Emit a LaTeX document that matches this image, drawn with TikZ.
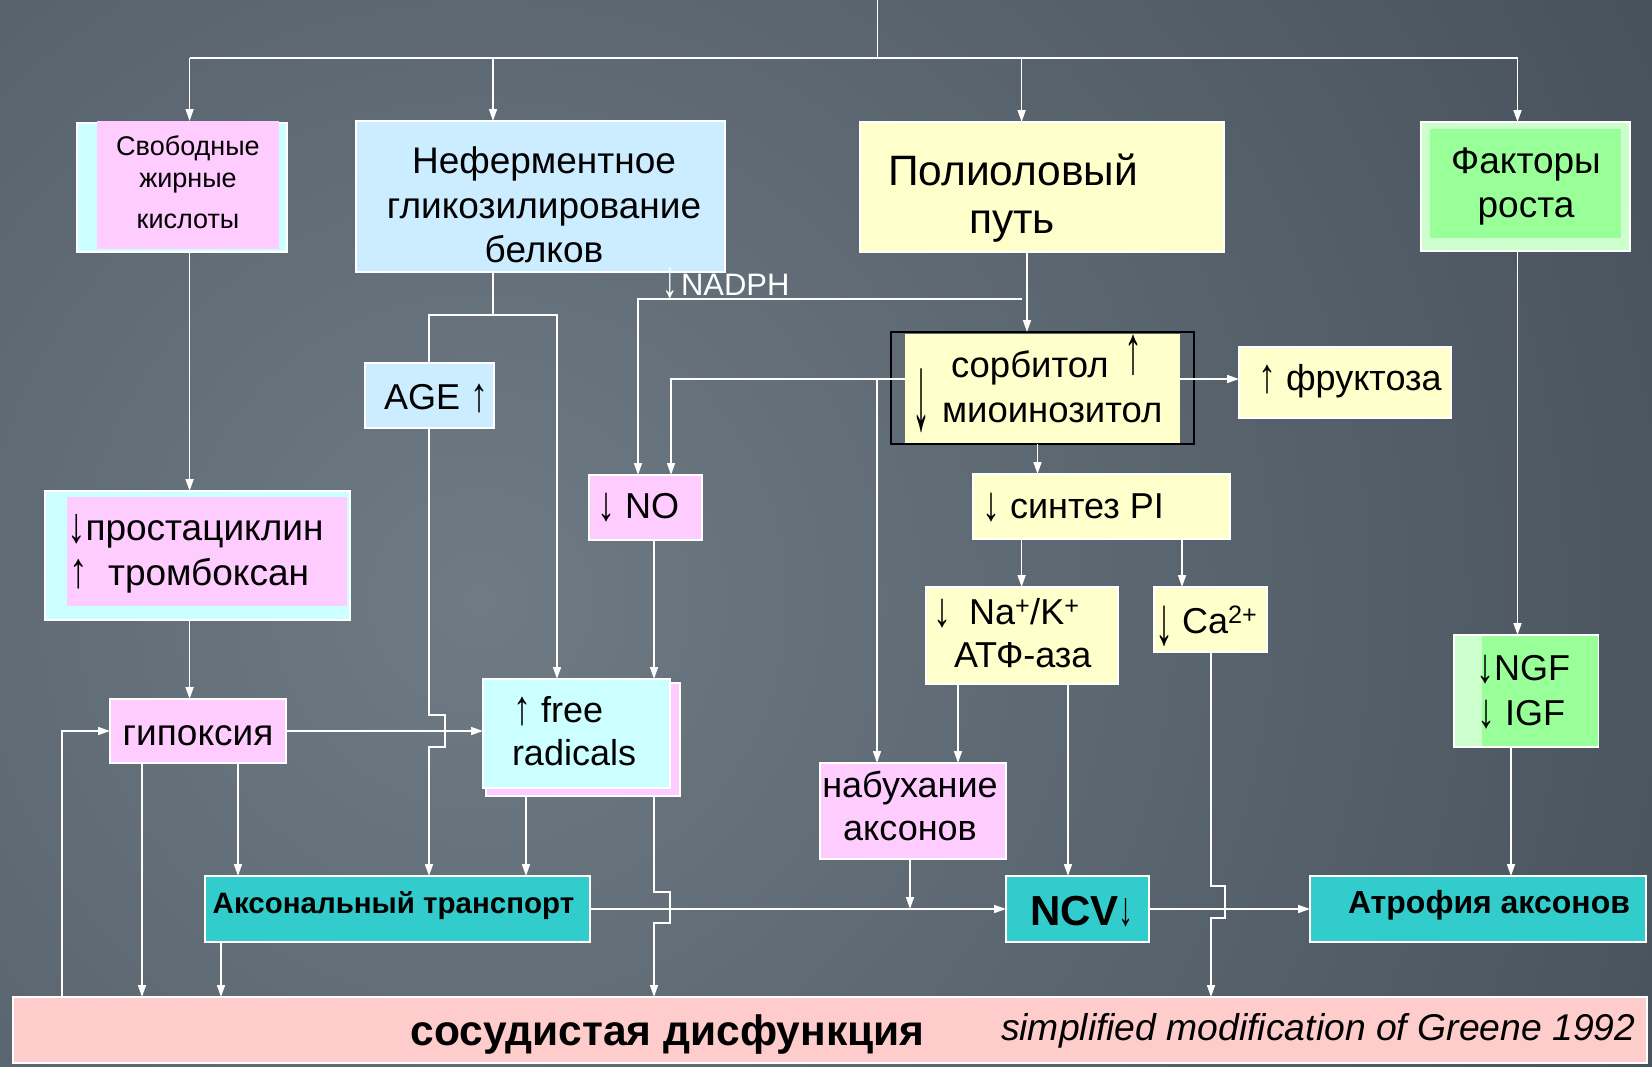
\documentclass[tikz,border=0pt]{standalone}
\usepackage{fontspec}
\setmainfont{Liberation Sans}
\usepackage{graphicx}
\usetikzlibrary{arrows.meta}
\definecolor{pinkbox}{HTML}{FFCCFF}
\definecolor{cyanbox}{HTML}{CCFFFF}
\definecolor{bluebox}{HTML}{CCECFF}
\definecolor{yelbox}{HTML}{FFFFCC}
\definecolor{grnin}{HTML}{99FF99}
\definecolor{grnout}{HTML}{CCFFCC}
\definecolor{tealbox}{HTML}{33CCCC}
\definecolor{salmonbox}{HTML}{FFCCCC}
\definecolor{bgA}{HTML}{6E7A84}
\definecolor{bgB}{HTML}{26303B}
\newcommand\myfs[1]{\fontsize{#1}{#1}\selectfont}
\newcommand\dnar{\raisebox{-0.08em}{\scalebox{1}[1.35]{↓}}}
\newcommand\upar{\raisebox{-0.08em}{\scalebox{1}[1.35]{↑}}}
\begin{document}
\begin{tikzpicture}[x=1pt,y=-1pt,
  box/.style={draw=white, line width=1.4pt, inner sep=0pt, outer sep=0pt},
  plain/.style={inner sep=0pt, outer sep=0pt},
  conn/.style={draw=white, line width=1.6pt},
  arr/.style={conn, -{Triangle[width=8pt,length=12pt]}},
  txt/.style={text=black, inner sep=0pt, outer sep=0pt, font=\myfs{36}},
]
\useasboundingbox (0,0) rectangle (1652,1066);
\begin{scope}
\clip (0,0) rectangle (1652,1066);
\fill[bgB] (0,0) rectangle (1652,1066);
\shade[inner color=bgA, outer color=bgB] (480,600) circle[radius=2400];
\end{scope}

% ---------- boxes ----------
\node[box, fill=cyanbox, minimum width=210, minimum height=129] (ffab) at (182,187.5) {};
\node[plain, fill=pinkbox, minimum width=182, minimum height=128] (ffa) at (188,185) {};
\node[box, fill=bluebox, minimum width=369, minimum height=151] (glyc) at (540.5,196.5) {};
\node[box, fill=yelbox, minimum width=364, minimum height=130] (polyol) at (1042,187) {};
\node[box, fill=grnout, minimum width=209, minimum height=129] (growth) at (1525.5,186.5) {};
\node[plain, fill=grnin, minimum width=191, minimum height=109] (growthi) at (1525.5,183.5) {};
\node[box, fill=bluebox, minimum width=129, minimum height=65] (age) at (429.5,395.5) {};
\node[plain, draw=black, line width=2.2pt, minimum width=303, minimum height=112] (sorbo) at (1042.5,388) {};
\node[plain, fill=yelbox, minimum width=275, minimum height=109] (sorbin) at (1042.5,388) {};
\node[box, fill=yelbox, minimum width=212, minimum height=71] (fruct) at (1345,382.5) {};
\node[box, fill=yelbox, minimum width=257, minimum height=65] (pi) at (1101.5,506.5) {};
\node[box, fill=pinkbox, minimum width=113, minimum height=65] (no) at (645.5,507.5) {};
\node[box, fill=cyanbox, minimum width=305, minimum height=129] (prostb) at (197.5,555.5) {};
\node[plain, fill=pinkbox, minimum width=280, minimum height=109] (prost) at (207,551.5) {};
\node[box, fill=pinkbox, minimum width=176, minimum height=64] (hyp) at (198,731) {};
\node[box, fill=pinkbox, minimum width=194, minimum height=113] (frb) at (583,739.5) {};
\node[box, fill=cyanbox, minimum width=187, minimum height=109] (fr) at (576.5,733.5) {};
\node[box, fill=yelbox, minimum width=192, minimum height=97] (nak) at (1022,635.5) {};
\node[box, fill=yelbox, minimum width=113, minimum height=65] (ca) at (1210.5,619.5) {};
\node[box, fill=grnout, minimum width=144, minimum height=112] (ngfo) at (1526,691) {};
\node[plain, fill=grnin, minimum width=116, minimum height=110] (ngf) at (1539.5,691) {};
\node[box, fill=pinkbox, minimum width=186, minimum height=96] (swell) at (913,811) {};
\node[box, fill=tealbox, minimum width=385, minimum height=66] (axt) at (397.5,909) {};
\node[box, fill=tealbox, minimum width=143, minimum height=66] (ncv) at (1077.5,909) {};
\node[box, fill=tealbox, minimum width=336, minimum height=66] (atr) at (1478,909) {};
\node[box, fill=salmonbox, minimum width=1634, minimum height=66] (vasc) at (830,1030) {};

% ---------- texts ----------
\node[txt, font=\myfs{27}, anchor=base] (t-ffa1) at (188,155) {Свободные};
\node[txt, font=\myfs{27}, anchor=base] (t-ffa2) at (188,187) {жирные};
\node[txt, font=\myfs{27}, anchor=base] (t-ffa3) at (188,228) {кислоты};
\node[txt, font=\myfs{37}, anchor=base] (t-gl1) at (544,173) {Неферментное};
\node[txt, font=\myfs{37}, anchor=base] (t-gl2) at (544,218) {гликозилирование};
\node[txt, font=\myfs{37}, anchor=base] (t-gl3) at (544,262) {белков};
\node[txt, font=\myfs{42.5}, anchor=base west] (t-po1) at (888,185) {Полиоловый};
\node[txt, font=\myfs{42.5}, anchor=base] (t-po2) at (1012,233) {путь};
\node[txt, font=\myfs{37}, anchor=base] (t-gr1) at (1526,173) {Факторы};
\node[txt, font=\myfs{37}, anchor=base] (t-gr2) at (1526,217) {роста};
\node[txt, anchor=base west] (t-age) at (384,409) {AGE \upar};
\node[txt, text=white, font=\myfs{31}, anchor=center] (t-nadpha) at (670,283) {\scalebox{1}[1.7]{↓}};
\node[txt, text=white, font=\myfs{31}, anchor=base west] (t-nadph) at (681,295) {NADPH};
\node[txt, font=\myfs{36.5}, anchor=base west] (t-so1) at (951,377) {сорбитол};
\node[txt, anchor=center] (t-so1a) at (1133,355.5) {\scalebox{1}[1.9]{↑}};
\node[txt, font=\myfs{36.5}, anchor=base west] (t-so2) at (942,422) {миоинозитол};
\node[txt, anchor=center] (t-so2a) at (921,401) {\scalebox{1}[3.0]{↓}};
\node[txt, anchor=base west] (t-fru) at (1258,390) {\upar\ фруктоза};
\node[txt, anchor=base west] (t-pi) at (982,518) {\dnar\ синтез PI};
\node[txt, anchor=base west] (t-no) at (597,518) {\dnar\ NO};
\node[txt, font=\myfs{37}, anchor=base west] (t-pr1) at (67,540) {\dnar простациклин};
\node[txt, font=\myfs{37}, anchor=base west] (t-pr2) at (69,585) {\upar\ \ тромбоксан};
\node[txt, font=\myfs{37}, anchor=base] (t-hyp) at (198,745) {гипоксия};
\node[txt, anchor=base west] (t-fr1) at (513,722) {\upar\ free};
\node[txt, anchor=base west] (t-fr2) at (512,765) {radicals};
\node[txt, anchor=base west] (t-nak1) at (933,624) {\dnar\hspace{18pt}Na\textsuperscript{+}/K\textsuperscript{+}};
\node[txt, anchor=base west] (t-nak2) at (954,667) {АТФ-аза};
\node[txt, anchor=center] (t-caa) at (1164,626.5) {\scalebox{1}[1.9]{↓}};
\node[txt, anchor=base west] (t-ca) at (1182,633) {Ca\textsuperscript{2+}};
\node[txt, anchor=base west] (t-ngf1) at (1476,680) {\dnar NGF};
\node[txt, anchor=base west] (t-ngf2) at (1477,725) {\dnar\ IGF};
\node[txt, anchor=base] (t-sw1) at (910,797) {набухание};
\node[txt, anchor=base] (t-sw2) at (910,840) {аксонов};
\node[txt, font=\myfs{29.5}\bfseries, anchor=base] (t-axt) at (393.5,913) {Аксональный транспорт};
\node[txt, font=\myfs{42}\bfseries, anchor=base west] (t-ncv) at (1030,925) {NCV{\mdseries\myfs{30}\scalebox{1}[1.6]{↓}}};
\node[txt, font=\myfs{32}\bfseries, anchor=base] (t-atr) at (1489,913) {Атрофия аксонов};
\node[txt, font=\myfs{42.5}\bfseries, anchor=base] (t-va1) at (667.5,1045) {сосудистая дисфункция};
\node[txt, font=\myfs{37.3}\itshape, anchor=base west] (t-va2) at (1001,1040) {simplified modification of Greene 1992};

% ---------- columns / rows ----------
\coordinate (top) at (877.6,0);
\coordinate (bus) at (877.6,58);
\coordinate (xf) at (189.6,0);
\coordinate (xg) at (493,0);
\coordinate (xp) at (1021.6,0);
\coordinate (xq) at (1027,0);
\coordinate (xgr) at (1517.5,0);
\coordinate (xage) at (429,0);
\coordinate (xagb) at (445,0);
\coordinate (xfr1) at (557,0);
\coordinate (xnadph) at (638,0);
\coordinate (xsorbL) at (671,0);
\coordinate (xsw) at (877,0);
\coordinate (xsorbB) at (1037.5,0);
\coordinate (xca) at (1182,0);
\coordinate (xnak1) at (958,0);
\coordinate (xnak2) at (1068,0);
\coordinate (xcad) at (1211,0);
\coordinate (xcab) at (1225,0);
\coordinate (xng) at (1511,0);
\coordinate (xno) at (654,0);
\coordinate (xnob) at (670,0);
\coordinate (xfr2) at (526,0);
\coordinate (xh1) at (142,0);
\coordinate (xh2) at (238,0);
\coordinate (xfb) at (62,0);
\coordinate (xax) at (221,0);
\coordinate (xswd) at (910,0);
\coordinate (yglyc) at (0,315);
\coordinate (ynad) at (0,299);
\coordinate (ysorb) at (0,379);
\coordinate (ybA) at (0,715);
\coordinate (ybB) at (0,747);
\coordinate (yfA) at (0,892);
\coordinate (yfB) at (0,923);
\coordinate (ycA) at (0,886);
\coordinate (ycB) at (0,918);

% ---------- connectors ----------
\draw[conn] (top) -- (bus);
\draw[conn] (xf |- bus) -- (xgr |- bus);
\draw[arr] (xf |- bus) -- (xf |- ffa.north);
\draw[arr] (xg |- bus) -- (xg |- glyc.north);
\draw[arr] (xp |- bus) -- (xp |- polyol.north);
\draw[arr] (xgr |- bus) -- (xgr |- growth.north);

\draw[arr] (xf |- ffab.south) -- (xf |- prostb.north);
\draw[arr] (xf |- prostb.south) -- (xf |- hyp.north);

\draw[conn] (xg |- glyc.south) -- (xg |- yglyc);
\draw[arr] (xage |- age.north) -- (xage |- yglyc) -- (xfr1 |- yglyc) -- (xfr1 |- fr.north);
\draw[arr] (xage |- age.south) -- (xage |- ybA) -- (xagb |- ybA) -- (xagb |- ybB) -- (xage |- ybB) -- (xage |- axt.north);

\draw[arr] (xq |- polyol.south) -- (xq |- sorbo.north);
\draw[arr] (xp |- ynad) -- (xnadph |- ynad) -- (xnadph |- no.north);
\draw[arr] (sorbin.west |- ysorb) -- (xsorbL |- ysorb) -- (xsorbL |- no.north);
\draw[arr] (xsw |- ysorb) -- (xsw |- swell.north);
\draw[arr] (sorbin.east |- ysorb) -- (fruct.west |- ysorb);
\draw[arr] (xsorbB |- sorbo.south) -- (xsorbB |- pi.north);
\draw[arr] (xp |- pi.south) -- (xp |- nak.north);
\draw[arr] (xca |- pi.south) -- (xca |- ca.north);
\draw[arr] (xnak1 |- nak.south) -- (xnak1 |- swell.north);
\draw[arr] (xnak2 |- nak.south) -- (xnak2 |- ncv.north);
\draw[arr] (xcad |- ca.south) -- (xcad |- ycA) -- (xcab |- ycA) -- (xcab |- ycB) -- (xcad |- ycB) -- (xcad |- vasc.north);
\draw[arr] (xgr |- growth.south) -- (xgr |- ngfo.north);
\draw[arr] (xng |- ngf.south) -- (xng |- atr.north);

\draw[arr] (xno |- no.south) -- (xno |- fr.north);
\draw[arr] (hyp.east) -- (fr.west |- hyp.east);
\draw[arr] (xfr2 |- frb.south) -- (xfr2 |- axt.north);
\draw[arr] (xno |- frb.south) -- (xno |- yfA) -- (xnob |- yfA) -- (xnob |- yfB) -- (xno |- yfB) -- (xno |- vasc.north);
\draw[arr] (xh1 |- hyp.south) -- (xh1 |- vasc.north);
\draw[arr] (xh2 |- hyp.south) -- (xh2 |- axt.north);
\draw[arr] (xfb |- vasc.north) -- (xfb |- hyp.west) -- (hyp.west);
\draw[arr] (xax |- axt.south) -- (xax |- vasc.north);
\draw[arr] (axt.east) -- (ncv.west);
\draw[arr] (xswd |- swell.south) -- (xswd |- axt.east);
\draw[arr] (ncv.east) -- (atr.west);
\end{tikzpicture}
\end{document}
